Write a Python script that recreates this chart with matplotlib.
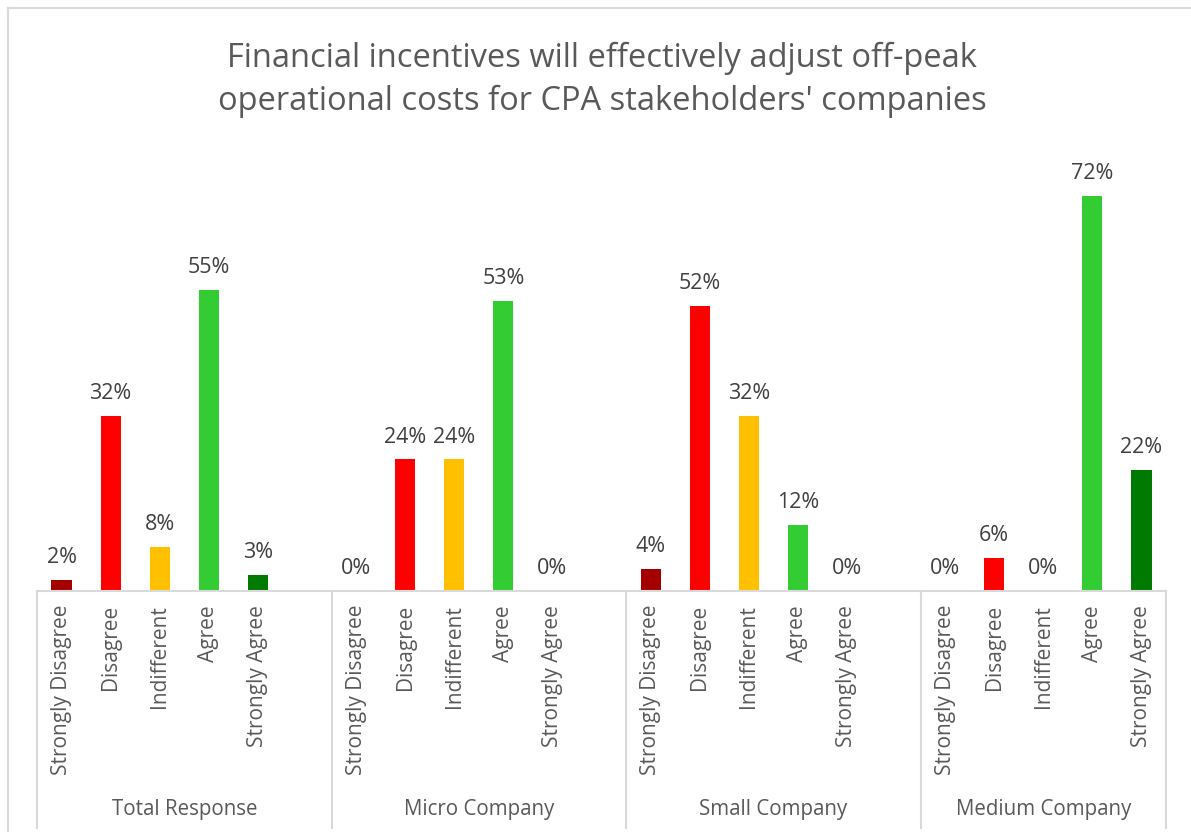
import matplotlib
matplotlib.use("Agg")
import matplotlib.pyplot as plt
from matplotlib.lines import Line2D
import matplotlib.transforms as mtransforms

plt.rcParams['font.family'] = ['Open Sans', 'DejaVu Sans']

title = "Financial incentives will effectively adjust off-peak\noperational costs for CPA stakeholders' companies"
groups = ["Total Response", "Micro Company", "Small Company", "Medium Company"]
responses = ["Strongly Disagree", "Disagree", "Indifferent", "Agree", "Strongly Agree"]
colors = ["#A50000", "#FF0000", "#FFC000", "#33CC33", "#007A00"]

total_response = [0.02, 0.32, 0.08, 0.55, 0.03]
micro_company = [0.00, 0.24, 0.24, 0.53, 0.00]
small_company = [0.04, 0.52, 0.32, 0.12, 0.00]
medium_company = [0.00, 0.06, 0.00, 0.72, 0.22]
values = [total_response, micro_company, small_company, medium_company]

W, H = 1191, 832
fig = plt.figure(figsize=(W / 100, H / 100), dpi=100)
fig.patch.set_facecolor("white")

# chart frame (top and left edges)
border = "#D9D9D9"
fig.add_artist(Line2D([8 / W, 1.0], [1 - 8 / H, 1 - 8 / H], color=border, lw=1.5, transform=fig.transFigure))
fig.add_artist(Line2D([8 / W, 8 / W], [1 - 8 / H, 0.0], color=border, lw=1.5, transform=fig.transFigure))

base_px = 591
top_px = 152.6
ax = fig.add_axes([37 / W, (H - base_px) / H, (1166 - 37) / W, (base_px - top_px) / H])

slot = 6  # five responses plus one blank slot between groups
positions, heights, bar_colors, tick_labels = [], [], [], []
for g, vals in enumerate(values):
    for i, v in enumerate(vals):
        positions.append(g * slot + i)
        heights.append(v)
        bar_colors.append(colors[i])
        tick_labels.append(responses[i])

ax.bar(positions, heights, width=0.41, color=bar_colors, zorder=2)
ax.set_xlim(-0.5, len(groups) * slot - 1.5)
ax.set_ylim(0, 0.80)

for x, v in zip(positions, heights):
    ax.annotate(f"{v:.0%}", (x, v), xytext=(0, 12.2), textcoords="offset points",
                ha="center", va="baseline", fontsize=15.5, color="#404040")

for s in ["top", "right", "left"]:
    ax.spines[s].set_visible(False)
ax.spines["bottom"].set_color(border)
ax.spines["bottom"].set_linewidth(1.5)
ax.set_yticks([])
ax.set_xticks(positions)
ax.set_xticklabels(tick_labels, rotation=90, fontsize=15, color="#595959", va="top")
ax.tick_params(axis="x", length=0, pad=10)

# group separators and group names below the tick labels
trans = mtransforms.blended_transform_factory(ax.transData, ax.transAxes)
bottom_axes = -(H - base_px) / (base_px - top_px)
seps = [g * slot - 0.5 for g in range(len(groups))] + [len(groups) * slot - 1.5]
for sx in seps:
    ax.add_artist(Line2D([sx, sx], [0, bottom_axes + 0.01], color=border, lw=1.5,
                         transform=trans, clip_on=False))
label_y = -(810 - base_px) / (base_px - top_px)
for g, name in enumerate(groups):
    left = seps[g]
    right = seps[g + 1]
    ax.text((left + right) / 2, label_y, name, transform=trans, ha="center", va="center",
            fontsize=14.8, color="#595959")

fig.text(602 / W, 1 - 80 / H, title, ha="center", va="center", fontsize=23.5,
         color="#595959", linespacing=1.38)

fig.savefig("out.png", dpi=100, facecolor="white")
